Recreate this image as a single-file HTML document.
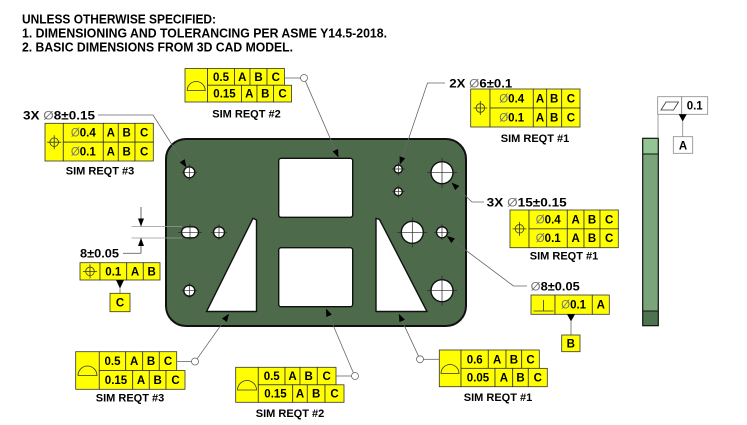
<!DOCTYPE html>
<html><head><meta charset="utf-8">
<style>
html,body{margin:0;padding:0;background:#fff;}
svg{display:block;}
text{font-family:"Liberation Sans",sans-serif;font-weight:bold;fill:#000;}
.f{font-size:11.5px;text-anchor:middle;}
.s{font-size:11px;text-anchor:middle;}
.c{fill:#ff0;stroke:#333;stroke-width:0.8;}
.w{fill:#fff;stroke:#888;stroke-width:0.8;}
.ld{fill:none;stroke:#666;stroke-width:0.8;}
.sym{fill:none;stroke:#333;stroke-width:0.8;}
.dia{font-family:"Liberation Sans",sans-serif;font-weight:normal;fill:#777;}
.hole{fill:#fff;stroke:#111;stroke-width:1.4;}
.cr{stroke:#222;stroke-width:0.7;fill:none;}
</style></head><body>
<svg width="747" height="425" viewBox="0 0 747 425" xmlns="http://www.w3.org/2000/svg">
<defs>
<marker id="ar" markerWidth="8" markerHeight="6" refX="8" refY="3" orient="auto" markerUnits="userSpaceOnUse"><path d="M0,0 L8,3 L0,6 z" fill="#000"/></marker>
</defs>

<text x="22" y="23.5" font-size="12.5" textLength="194" lengthAdjust="spacingAndGlyphs">UNLESS OTHERWISE SPECIFIED:</text>
<text x="22" y="37.5" font-size="12.5" textLength="365" lengthAdjust="spacingAndGlyphs">1. DIMENSIONING AND TOLERANCING PER ASME Y14.5-2018.</text>
<text x="22" y="51.5" font-size="12.5" textLength="271" lengthAdjust="spacingAndGlyphs">2. BASIC DIMENSIONS FROM 3D CAD MODEL.</text>

<rect x="166" y="139" width="300" height="187" rx="20" fill="#4d6b4b" stroke="#111" stroke-width="2"/>
<line x1="131.5" y1="226.5" x2="182" y2="226.5" stroke="#999" stroke-width="0.8"/>
<line x1="131.5" y1="238" x2="182" y2="238" stroke="#999" stroke-width="0.8"/>

<rect x="278.7" y="158.3" width="74" height="59" rx="2.5" class="hole"/>
<rect x="278.7" y="247.7" width="74" height="59" rx="2.5" class="hole"/>
<path d="M253,218.3 L256.5,220 L256.5,311.5 L206.5,311.5 Z" class="hole" stroke-linejoin="round"/>
<path d="M376,218.3 L379.5,219.5 L427,311.5 L376,311.5 Z" class="hole" stroke-linejoin="round"/>

<circle cx="189.3" cy="172.3" r="5.5" class="hole"/>
<circle cx="398.3" cy="169" r="4" class="hole"/>
<circle cx="398.3" cy="191.7" r="4" class="hole"/>
<circle cx="442" cy="172.7" r="11" class="hole"/>
<rect x="181.5" y="226.8" width="17" height="11" rx="5.5" class="hole"/>
<circle cx="219" cy="232.3" r="5.5" class="hole"/>
<circle cx="412.3" cy="232.3" r="11" class="hole"/>
<circle cx="442" cy="232.3" r="5.5" class="hole"/>
<circle cx="189.3" cy="290.7" r="5.5" class="hole"/>
<circle cx="442" cy="290.7" r="11" class="hole"/>

<g class="cr">
<path d="M181.3,172.3h16M189.3,164.3v16"/>
<path d="M391.8,169h13M398.3,162.5v13"/>
<path d="M391.8,191.7h13M398.3,185.2v13"/>
<path d="M427,172.7h30M442,157.7v30"/>
<path d="M178,232.3h24M190,224.3v16"/>
<path d="M211,232.3h16M219,224.3v16"/>
<path d="M397.3,232.3h30M412.3,217.3v30"/>
<path d="M434,232.3h16M442,224.3v16"/>
<path d="M181.3,290.7h16M189.3,282.7v16"/>
<path d="M427,290.7h30M442,275.7v30"/>
</g>

<rect x="642.7" y="138.3" width="15.6" height="187.4" fill="#7aa47a"/>
<rect x="642.7" y="138.3" width="15.6" height="15.7" fill="#93c493"/>
<rect x="642.7" y="311" width="15.6" height="14.7" fill="#4e744f"/>
<rect x="642.7" y="138.3" width="15.6" height="187.4" fill="none" stroke="#111" stroke-width="1.2"/>
<line x1="642.7" y1="154" x2="658.3" y2="154" stroke="#111" stroke-width="1"/>
<line x1="642.7" y1="311" x2="658.3" y2="311" stroke="#111" stroke-width="1"/>
<line x1="658" y1="114.3" x2="658" y2="138.3" stroke="#888" stroke-width="0.8"/>
<rect x="657.7" y="96.7" width="24" height="17.6" class="w"/>
<rect x="681.7" y="96.7" width="26" height="17.6" class="w"/>
<path d="M661,110 L666,102 L678.5,102 L673.5,110 Z" class="sym" stroke="#555"/>
<text x="694.7" y="109.7" class="f">0.1</text>
<polygon points="678.7,114.3 686.7,114.3 682.7,121.5" fill="#000"/>
<line x1="682.7" y1="121.5" x2="682.7" y2="136.7" stroke="#888" stroke-width="0.8"/>
<rect x="673.3" y="136.7" width="19.4" height="16.6" class="w"/>
<text x="683" y="149.3" class="f">A</text>

<rect x="185" y="68.5" width="22.5" height="33.5" class="c"/>
<path d="M187.2,90.5 A9,9 0 0 1 205.2,90.5 Z" class="sym"/>
<rect x="207.5" y="68.5" width="27" height="16.75" class="c"/>
<rect x="234.5" y="68.5" width="15.5" height="16.75" class="c"/>
<rect x="250" y="68.5" width="17" height="16.75" class="c"/>
<rect x="267" y="68.5" width="17.5" height="16.75" class="c"/>
<rect x="207.5" y="85.25" width="34" height="16.75" class="c"/>
<rect x="241.5" y="85.25" width="15.5" height="16.75" class="c"/>
<rect x="257" y="85.25" width="16.5" height="16.75" class="c"/>
<rect x="273.5" y="85.25" width="18" height="16.75" class="c"/>
<text x="221" y="81" class="f">0.5</text>
<text x="242.3" y="81" class="f">A</text>
<text x="258.5" y="81" class="f">B</text>
<text x="275.8" y="81" class="f">C</text>
<text x="224.5" y="97.7" class="f">0.15</text>
<text x="249.3" y="97.7" class="f">A</text>
<text x="265.3" y="97.7" class="f">B</text>
<text x="282.5" y="97.7" class="f">C</text>
<text x="246.5" y="117.5" class="s">SIM REQT #2</text>
<line x1="284.5" y1="78" x2="300.5" y2="78" class="ld"/>
<circle cx="304" cy="78" r="3.5" fill="#fff" stroke="#666" stroke-width="0.8"/>
<line x1="305.4" y1="81.2" x2="338.5" y2="157.5" class="ld" marker-end="url(#ar)"/>

<text x="23" y="119.5" font-size="12" textLength="72" lengthAdjust="spacingAndGlyphs">3X <tspan class="dia">Ø</tspan>8±0.15</text>
<polyline points="98,115 153,115 186.5,167.5" class="ld" marker-end="url(#ar)"/>
<rect x="45" y="123.3" width="18.3" height="37.7" class="c"/>
<circle cx="54.2" cy="142.2" r="4.3" class="sym"/>
<path d="M47.2,142.2h14M54.2,135.2v14" class="sym"/>
<rect x="63.3" y="123.3" width="40" height="18.85" class="c"/>
<rect x="103.3" y="123.3" width="15" height="18.85" class="c"/>
<rect x="118.3" y="123.3" width="16.7" height="18.85" class="c"/>
<rect x="135" y="123.3" width="18.3" height="18.85" class="c"/>
<rect x="63.3" y="142.15" width="40" height="18.85" class="c"/>
<rect x="103.3" y="142.15" width="15" height="18.85" class="c"/>
<rect x="118.3" y="142.15" width="16.7" height="18.85" class="c"/>
<rect x="135" y="142.15" width="18.3" height="18.85" class="c"/>
<text x="83.3" y="136.7" class="f"><tspan class="dia">Ø</tspan>0.4</text>
<text x="110.8" y="136.7" class="f">A</text>
<text x="126.7" y="136.7" class="f">B</text>
<text x="144.2" y="136.7" class="f">C</text>
<text x="83.3" y="155.6" class="f"><tspan class="dia">Ø</tspan>0.1</text>
<text x="110.8" y="155.6" class="f">A</text>
<text x="126.7" y="155.6" class="f">B</text>
<text x="144.2" y="155.6" class="f">C</text>
<text x="100" y="174.5" class="s">SIM REQT #3</text>

<text x="449.3" y="87.5" font-size="12" textLength="63" lengthAdjust="spacingAndGlyphs">2X <tspan class="dia">Ø</tspan>6±0.1</text>
<polyline points="445,83 427.5,83 399.8,164.8" class="ld" marker-end="url(#ar)"/>
<rect x="470.7" y="89" width="19.3" height="38" class="c"/>
<circle cx="480.3" cy="108" r="4.3" class="sym"/>
<path d="M473.3,108h14M480.3,101v14" class="sym"/>
<rect x="490" y="89" width="43.3" height="19" class="c"/>
<rect x="533.3" y="89" width="13.4" height="19" class="c"/>
<rect x="546.7" y="89" width="15" height="19" class="c"/>
<rect x="561.7" y="89" width="18.3" height="19" class="c"/>
<rect x="490" y="108" width="43.3" height="19" class="c"/>
<rect x="533.3" y="108" width="13.4" height="19" class="c"/>
<rect x="546.7" y="108" width="15" height="19" class="c"/>
<rect x="561.7" y="108" width="18.3" height="19" class="c"/>
<text x="511.7" y="102.5" class="f"><tspan class="dia">Ø</tspan>0.4</text>
<text x="540" y="102.5" class="f">A</text>
<text x="554.2" y="102.5" class="f">B</text>
<text x="570.9" y="102.5" class="f">C</text>
<text x="511.7" y="121.5" class="f"><tspan class="dia">Ø</tspan>0.1</text>
<text x="540" y="121.5" class="f">A</text>
<text x="554.2" y="121.5" class="f">B</text>
<text x="570.9" y="121.5" class="f">C</text>
<text x="535" y="142" class="s">SIM REQT #1</text>

<text x="486.7" y="206.5" font-size="12" textLength="80" lengthAdjust="spacingAndGlyphs">3X <tspan class="dia">Ø</tspan>15±0.15</text>
<polyline points="484,202 472,202 451.5,182.5" class="ld" marker-end="url(#ar)"/>
<rect x="510" y="210" width="19" height="37.7" class="c"/>
<circle cx="519.5" cy="228.85" r="4.3" class="sym"/>
<path d="M512.5,228.85h14M519.5,221.85v14" class="sym"/>
<rect x="529" y="210" width="38.3" height="18.85" class="c"/>
<rect x="567.3" y="210" width="16.7" height="18.85" class="c"/>
<rect x="584" y="210" width="16" height="18.85" class="c"/>
<rect x="600" y="210" width="18.3" height="18.85" class="c"/>
<rect x="529" y="228.85" width="38.3" height="18.85" class="c"/>
<rect x="567.3" y="228.85" width="16.7" height="18.85" class="c"/>
<rect x="584" y="228.85" width="16" height="18.85" class="c"/>
<rect x="600" y="228.85" width="18.3" height="18.85" class="c"/>
<text x="548.2" y="223.3" class="f"><tspan class="dia">Ø</tspan>0.4</text>
<text x="575.7" y="223.3" class="f">A</text>
<text x="592" y="223.3" class="f">B</text>
<text x="609.2" y="223.3" class="f">C</text>
<text x="548.2" y="242.2" class="f"><tspan class="dia">Ø</tspan>0.1</text>
<text x="575.7" y="242.2" class="f">A</text>
<text x="592" y="242.2" class="f">B</text>
<text x="609.2" y="242.2" class="f">C</text>
<text x="564" y="259.5" class="s">SIM REQT #1</text>

<text x="530.7" y="290.5" font-size="12" textLength="49" lengthAdjust="spacingAndGlyphs"><tspan class="dia">Ø</tspan>8±0.05</text>
<polyline points="527,286 513.5,286 446.8,236" class="ld" marker-end="url(#ar)"/>
<rect x="531" y="295" width="24" height="19.3" class="c"/>
<rect x="555" y="295" width="37.3" height="19.3" class="c"/>
<rect x="592.3" y="295" width="17" height="19.3" class="c"/>
<path d="M533.5,311h20M543.5,300v11" class="sym"/>
<text x="573.6" y="308.6" class="f"><tspan class="dia">Ø</tspan>0.1</text>
<text x="600.8" y="308.6" class="f">A</text>
<polygon points="567,314.3 575,314.3 571,321.5" fill="#000"/>
<line x1="571" y1="321.5" x2="571" y2="335" stroke="#666" stroke-width="0.8"/>
<rect x="561.7" y="335" width="18.3" height="16.7" class="c"/>
<text x="570.8" y="347.4" class="f">B</text>

<line x1="141" y1="207" x2="141" y2="226.5" stroke="#444" stroke-width="0.8" marker-end="url(#ar)"/>
<line x1="141" y1="253.3" x2="141" y2="238" stroke="#444" stroke-width="0.8" marker-end="url(#ar)"/>
<line x1="141" y1="253.3" x2="123" y2="253.3" stroke="#666" stroke-width="0.8"/>
<text x="80" y="257.5" font-size="12" textLength="39" lengthAdjust="spacingAndGlyphs">8±0.05</text>
<rect x="80" y="262.7" width="20" height="17.3" class="c"/>
<circle cx="90" cy="271.35" r="4.3" class="sym"/>
<path d="M83,271.35h14M90,264.35v14" class="sym"/>
<rect x="100" y="262.7" width="26.7" height="17.3" class="c"/>
<rect x="126.7" y="262.7" width="16.6" height="17.3" class="c"/>
<rect x="143.3" y="262.7" width="16.7" height="17.3" class="c"/>
<text x="113.3" y="275.3" class="f">0.1</text>
<text x="135" y="275.3" class="f">A</text>
<text x="151.6" y="275.3" class="f">B</text>
<polygon points="116,280 124,280 120,288.5" fill="#000"/>
<line x1="120" y1="288.5" x2="120" y2="293.3" stroke="#666" stroke-width="0.8"/>
<rect x="110" y="293.3" width="20" height="18.4" class="c"/>
<text x="120" y="306.5" class="f">C</text>

<rect x="75.7" y="351.7" width="23.6" height="37.6" class="c"/>
<path d="M78,375.5 A9.5,9.5 0 0 1 97,375.5 Z" class="sym"/>
<rect x="99.3" y="351.7" width="26.4" height="18.8" class="c"/>
<rect x="125.7" y="351.7" width="17" height="18.8" class="c"/>
<rect x="142.7" y="351.7" width="16.6" height="18.8" class="c"/>
<rect x="159.3" y="351.7" width="17.4" height="18.8" class="c"/>
<rect x="99.3" y="370.5" width="33.4" height="18.8" class="c"/>
<rect x="132.7" y="370.5" width="16.6" height="18.8" class="c"/>
<rect x="149.3" y="370.5" width="16.7" height="18.8" class="c"/>
<rect x="166" y="370.5" width="19" height="18.8" class="c"/>
<text x="112.5" y="365.1" class="f">0.5</text>
<text x="134.2" y="365.1" class="f">A</text>
<text x="151" y="365.1" class="f">B</text>
<text x="168" y="365.1" class="f">C</text>
<text x="116" y="383.9" class="f">0.15</text>
<text x="141" y="383.9" class="f">A</text>
<text x="157.6" y="383.9" class="f">B</text>
<text x="175.5" y="383.9" class="f">C</text>
<text x="130" y="401.5" class="s">SIM REQT #3</text>
<line x1="176.7" y1="361.5" x2="191.5" y2="361.5" class="ld"/>
<circle cx="195" cy="361.5" r="3.5" fill="#fff" stroke="#666" stroke-width="0.8"/>
<line x1="197.2" y1="358.7" x2="229" y2="313.8" class="ld" marker-end="url(#ar)"/>

<rect x="235.7" y="367.3" width="22.6" height="35" class="c"/>
<path d="M237.5,390 A9.5,9.5 0 0 1 256.5,390 Z" class="sym"/>
<rect x="258.3" y="367.3" width="26.7" height="17.5" class="c"/>
<rect x="285" y="367.3" width="15" height="17.5" class="c"/>
<rect x="300" y="367.3" width="17.3" height="17.5" class="c"/>
<rect x="317.3" y="367.3" width="18.7" height="17.5" class="c"/>
<rect x="258.3" y="384.8" width="34.4" height="17.5" class="c"/>
<rect x="292.7" y="384.8" width="14.6" height="17.5" class="c"/>
<rect x="307.3" y="384.8" width="17.7" height="17.5" class="c"/>
<rect x="325" y="384.8" width="19" height="17.5" class="c"/>
<text x="271.7" y="380" class="f">0.5</text>
<text x="292.5" y="380" class="f">A</text>
<text x="308.7" y="380" class="f">B</text>
<text x="326.7" y="380" class="f">C</text>
<text x="275.5" y="397.5" class="f">0.15</text>
<text x="300" y="397.5" class="f">A</text>
<text x="316.2" y="397.5" class="f">B</text>
<text x="334.5" y="397.5" class="f">C</text>
<text x="290" y="417" class="s">SIM REQT #2</text>
<line x1="336" y1="376" x2="351.5" y2="376" class="ld"/>
<circle cx="355" cy="376" r="3.5" fill="#fff" stroke="#666" stroke-width="0.8"/>
<line x1="353.4" y1="372.9" x2="326" y2="308.5" class="ld" marker-end="url(#ar)"/>

<rect x="439.3" y="350" width="21.7" height="36.7" class="c"/>
<path d="M441,373.5 A9,9 0 0 1 459,373.5 Z" class="sym"/>
<rect x="461" y="350" width="27.3" height="18.35" class="c"/>
<rect x="488.3" y="350" width="17.7" height="18.35" class="c"/>
<rect x="506" y="350" width="15.7" height="18.35" class="c"/>
<rect x="521.7" y="350" width="17.6" height="18.35" class="c"/>
<rect x="461" y="368.35" width="34" height="18.35" class="c"/>
<rect x="495" y="368.35" width="17.7" height="18.35" class="c"/>
<rect x="512.7" y="368.35" width="15.6" height="18.35" class="c"/>
<rect x="528.3" y="368.35" width="19" height="18.35" class="c"/>
<text x="474.7" y="363.3" class="f">0.6</text>
<text x="497.2" y="363.3" class="f">A</text>
<text x="513.9" y="363.3" class="f">B</text>
<text x="530.5" y="363.3" class="f">C</text>
<text x="478" y="381.6" class="f">0.05</text>
<text x="503.9" y="381.6" class="f">A</text>
<text x="520.5" y="381.6" class="f">B</text>
<text x="537.8" y="381.6" class="f">C</text>
<text x="498" y="401" class="s">SIM REQT #1</text>
<line x1="423.5" y1="359.3" x2="439.3" y2="359.3" class="ld"/>
<circle cx="420" cy="359.3" r="3.5" fill="#fff" stroke="#666" stroke-width="0.8"/>
<line x1="418.5" y1="356.1" x2="398.8" y2="313.8" class="ld" marker-end="url(#ar)"/>

</svg>
</body></html>
